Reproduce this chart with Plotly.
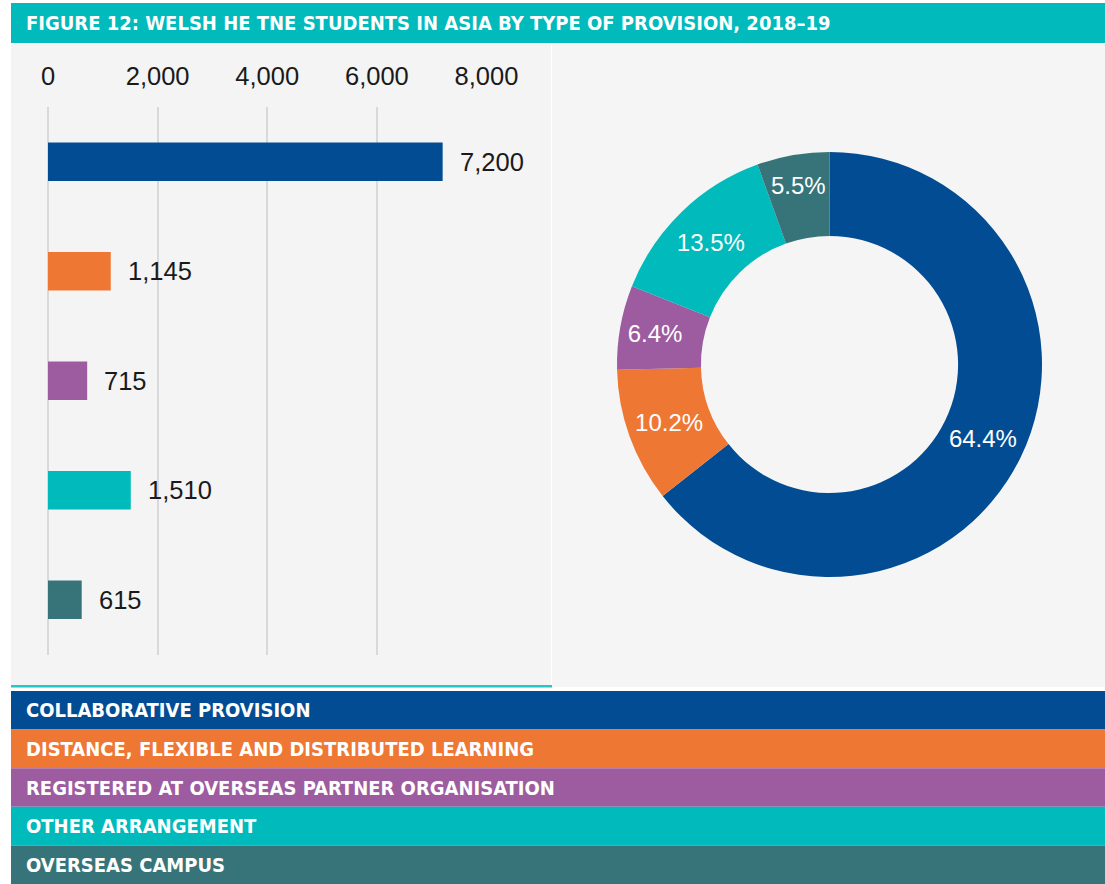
import plotly.graph_objects as go

# ---- data ----
categories = [
    "COLLABORATIVE PROVISION",
    "DISTANCE, FLEXIBLE AND DISTRIBUTED LEARNING",
    "REGISTERED AT OVERSEAS PARTNER ORGANISATION",
    "OTHER ARRANGEMENT",
    "OVERSEAS CAMPUS",
]
students = [7200, 1145, 715, 1510, 615]
colors = ["#024C94", "#EE7734", "#9C5C9F", "#00BABB", "#377479"]
tick_values = [0, 2000, 4000, 6000, 8000]
tick_labels = ["0", "2,000", "4,000", "6,000", "8,000"]
title_text = "FIGURE 12: WELSH HE TNE STUDENTS IN ASIA BY TYPE OF PROVISION, 2018\u201319"

W, H = 1105, 884
NARROW = "Liberation Sans Narrow, DejaVu Sans Condensed, Arial Narrow, sans-serif"
REG = "Liberation Sans, Arial, sans-serif"
BANNER_SIZE = 20


def px(x):
    return x / W


def py(y):
    return 1 - y / H


fig = go.Figure()

fig.add_trace(go.Bar(
    x=students,
    y=categories,
    orientation="h",
    marker=dict(color=colors, line=dict(width=0)),
    showlegend=False,
    hoverinfo="x+y",
    xaxis="x",
    yaxis="y",
))

fig.add_trace(go.Pie(
    values=students,
    labels=categories,
    marker=dict(colors=colors, line=dict(width=0)),
    hole=0.605,
    sort=False,
    direction="clockwise",
    rotation=0,
    texttemplate="%{percent:.1%}",
    textposition="inside",
    insidetextorientation="horizontal",
    textfont=dict(color="white", size=24, family=REG),
    showlegend=False,
    domain=dict(x=[px(617), px(1042)], y=[py(577), py(152)]),
))

shapes = []
# title bar
shapes.append(dict(type="rect", xref="paper", yref="paper", x0=px(11), x1=1, y0=py(43), y1=py(3),
                   fillcolor="#00BABB", line=dict(width=0), layer="below"))
# left panel
shapes.append(dict(type="rect", xref="paper", yref="paper", x0=px(11), x1=px(551), y0=py(685), y1=py(44),
                   fillcolor="#F4F4F4", line=dict(width=0), layer="below"))
# right panel
shapes.append(dict(type="rect", xref="paper", yref="paper", x0=px(552), x1=1, y0=py(687), y1=py(44),
                   fillcolor="#F5F5F5", line=dict(width=0), layer="below"))
# teal line under left panel
shapes.append(dict(type="rect", xref="paper", yref="paper", x0=px(11), x1=px(552), y0=py(687.5), y1=py(685),
                   fillcolor="#25C6C8", line=dict(width=0), layer="below"))

annotations = []
# legend rows
row_top = 691
row_h = 38.6
for i, (cat, col) in enumerate(zip(categories, colors)):
    y0 = row_top + i * row_h
    y1 = y0 + row_h if i < len(categories) - 1 else H
    shapes.append(dict(type="rect", xref="paper", yref="paper", x0=px(11), x1=1, y0=py(y1), y1=py(y0),
                       fillcolor=col, line=dict(width=0), layer="below"))
    annotations.append(dict(x=px(24), y=py((y0 + y1) / 2), xref="paper", yref="paper",
                            text=cat, showarrow=False, xanchor="left", yanchor="middle",
                            font=dict(family=NARROW, size=BANNER_SIZE, color="white", weight="bold")))

# title
annotations.append(dict(x=px(24), y=py(23), xref="paper", yref="paper", text=title_text,
                        showarrow=False, xanchor="left", yanchor="middle",
                        font=dict(family=NARROW, size=BANNER_SIZE, color="white", weight="bold")))

# bar value labels
for cat, v in zip(categories, students):
    annotations.append(dict(x=v, y=cat, xref="x", yref="y", text=f"{v:,}", showarrow=False,
                            xanchor="left", yanchor="middle", xshift=15,
                            font=dict(family=REG, size=25.5, color="#1A1A1A")))

fig.update_layout(
    width=W, height=H,
    margin=dict(l=0, r=0, t=0, b=0, pad=0),
    paper_bgcolor="white",
    plot_bgcolor="rgba(0,0,0,0)",
    bargap=0.647,
    shapes=shapes,
    annotations=annotations,
    xaxis=dict(
        domain=[px(48), px(486.5)],
        range=[0, 8000],
        side="top",
        automargin=False,
        tickmode="array",
        tickvals=tick_values,
        ticktext=tick_labels,
        tickfont=dict(family=REG, size=25.5, color="#1A1A1A"),
        ticks="outside", ticklen=11, tickcolor="rgba(0,0,0,0)",
        showgrid=True, gridcolor="#D9D9D9", gridwidth=1.5,
        zeroline=True, zerolinecolor="#D9D9D9", zerolinewidth=1.5,
        showline=False,
        fixedrange=True,
    ),
    yaxis=dict(
        domain=[py(654.5), py(107)],
        autorange="reversed",
        automargin=False,
        showticklabels=False,
        showgrid=False,
        zeroline=False,
        showline=False,
        fixedrange=True,
    ),
)

fig.write_html(
    "out.html",
    config={"displayModeBar": False},
    post_script="document.body.style.margin='0';document.body.style.overflow='hidden';",
)
